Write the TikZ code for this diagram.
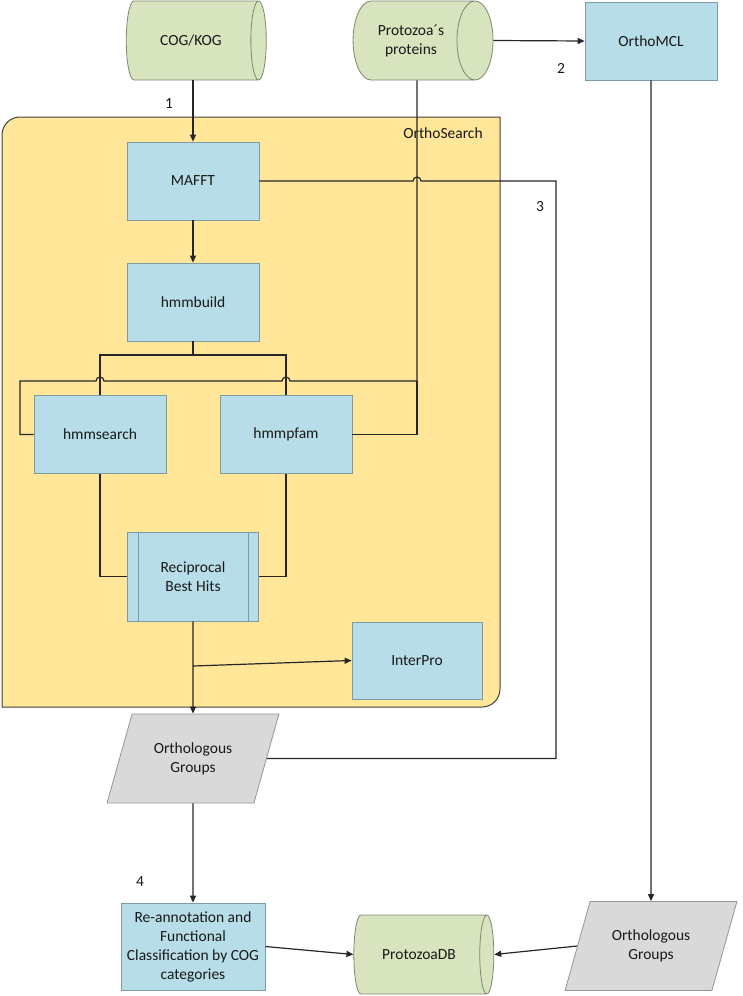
\documentclass[tikz,border=0pt]{standalone}
\usepackage{fontspec}
\setmainfont{Carlito}
\usetikzlibrary{arrows.meta,shapes.geometric}
\definecolor{BoxClr}{RGB}{183,221,232}
\definecolor{BoxLineClr}{RGB}{125,155,165}
\definecolor{DbClr}{RGB}{215,228,189}
\definecolor{DbLineClr}{RGB}{125,135,115}
\definecolor{GroupClr}{RGB}{217,217,217}
\definecolor{GroupLineClr}{RGB}{150,150,150}
\definecolor{SearchClr}{RGB}{255,230,153}
\definecolor{SearchLineClr}{RGB}{64,64,64}
\definecolor{LineClr}{RGB}{38,38,38}
\definecolor{TextClr}{RGB}{25,25,25}

\begin{document}
\begin{tikzpicture}[x=1pt,y=-1pt,
  font=\fontsize{15.5}{19}\selectfont,text=TextClr,
  tool/.style={draw=BoxLineClr,fill=BoxClr,line width=0.8pt,minimum width=132pt,minimum height=78pt,inner sep=2pt,align=center},
  db/.style={cylinder,aspect=1,draw=DbLineClr,fill=DbClr,line width=0.8pt,minimum width=79pt,minimum height=140pt,inner sep=2pt,align=center},
  groups/.style={trapezium,trapezium left angle=65,trapezium right angle=115,trapezium stretches=true,draw=GroupLineClr,fill=GroupClr,line width=0.8pt,minimum width=172pt,minimum height=89pt,inner sep=2pt,align=center},
  conn/.style={draw=LineClr,line width=1.2pt},
  arr/.style={conn,-{Triangle[length=7pt,width=6pt]}}]
\useasboundingbox (0,0) rectangle (742,996);

\filldraw[fill=SearchClr,draw=SearchLineClr,line width=1pt] (2,707) -- (2,135) arc (180:270:18) -- (500,117) -- (500,689) arc (0:90:18) -- cycle;
\node (search) at (443,133) {OrthoSearch};

\node[db] (cog) at (191,40.5) {COG/KOG};
\node[db] (prot) at (411,40.5) {Protozoa´s\\proteins};
\node[tool] (mcl) at (651,41) {OrthoMCL};
\node[tool] (mafft) at (193,181) {MAFFT};
\node[tool] (hmmb) at (193,302) {hmmbuild};
\node[tool] (hmms) at (100,434.5) {hmmsearch};
\node[tool] (hmmp) at (286,434.5) {hmmpfam};
\node[tool,minimum width=131pt,minimum height=89pt] (rbh) at (193,576.5) {Reciprocal\\Best Hits};
\draw[BoxLineClr,line width=0.8pt] ([xshift=11pt]rbh.north west) -- ([xshift=11pt]rbh.south west);
\draw[BoxLineClr,line width=0.8pt] ([xshift=-11pt]rbh.north east) -- ([xshift=-11pt]rbh.south east);
\node[tool,minimum width=130pt,minimum height=77pt] (ipro) at (417,660.5) {InterPro};
\node[groups] (og) at (193,758.5) {Orthologous\\Groups};
\node[tool,minimum width=144pt,minimum height=87pt] (reann) at (193,946.5) {Re-annotation and\\Functional\\Classification by COG\\categories};
\node[db] (pdb) at (419,954.5) {ProtozoaDB};
\node[groups] (ogr) at (651,946) {Orthologous\\Groups};

\node (n1) at (169,104) {1};
\node (n2) at (561,68) {2};
\node (n3) at (540,207) {3};
\node (n4) at (140,882) {4};

\coordinate (fork) at (193,355);
\coordinate (split) at (417,381);
\coordinate (branch) at (193,666);

\draw[arr] (cog.south -| mafft.north) -- (mafft.north);
\draw[arr] (prot.east) -- (mcl.west);
\draw[arr] (mafft) -- (hmmb);
\draw[conn] (hmmb.south) -- (fork) -| (hmms.north);
\draw[conn] (fork) -| (hmmp.north);
\draw[conn] (prot.south -| split) -- (split) -- (290,381) arc (0:-180:4) -- (104,381) arc (0:-180:4) -- (20,381) |- (hmms.west);
\draw[conn] (split) |- (hmmp.east);
\draw[conn] (hmms.south) |- (rbh.west);
\draw[conn] (hmmp.south) |- (rbh.east);
\draw[arr] (rbh.south) -- (og.north);
\draw[arr] (branch) -- (ipro.west);
\draw[conn] (mafft.east) -- (413,181) arc (180:360:4) -- (556,181) |- (og.east);
\draw[arr] (og.south) -- (reann.north);
\draw[arr] (reann.east) -- (pdb.west);
\draw[arr] (mcl.south) -- (ogr.north);
\draw[arr] (ogr.west) -- (pdb.east);
\end{tikzpicture}
\end{document}
